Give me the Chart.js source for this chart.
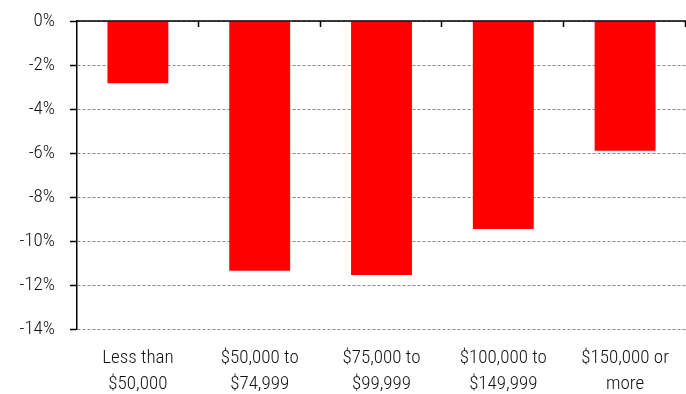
<!DOCTYPE html>
<html>
<head>
<meta charset="utf-8">
<script src="https://cdn.jsdelivr.net/npm/chart.js@4/dist/chart.umd.min.js"></script>
<style>
  html, body { margin: 0; padding: 0; background: #ffffff; }
  #wrap { width: 686px; height: 394px; position: relative; }
</style>
</head>
<body>
<div id="wrap"><canvas id="incomeChart"></canvas></div>
<script>
const incomeGroups = [
  ["Less than", "$50,000"],
  ["$50,000 to", "$74,999"],
  ["$75,000 to", "$99,999"],
  ["$100,000 to", "$149,999"],
  ["$150,000 or", "more"],
];
const pctChange = [-2.83, -11.35, -11.55, -9.45, -5.9];
const yMin = -14;
const yMax = 0;
const yStep = 2;

const fontFamily = "'Roboto Condensed', 'DejaVu Sans Condensed', sans-serif";

// solid zero line along the top with short category dividers hanging below it
const zeroAxisPlugin = {
  id: "zeroAxis",
  afterDatasetsDraw(chart) {
    const { ctx, scales: { x, y } } = chart;
    const y0 = y.getPixelForValue(0);
    const step = x.width / incomeGroups.length;

    ctx.save();
    ctx.strokeStyle = "#000000";
    ctx.lineWidth = 1.5;
    ctx.beginPath();
    ctx.moveTo(x.left, y0);
    ctx.lineTo(x.right, y0);
    for (let i = 1; i <= incomeGroups.length; i++) {
      const px = Math.round(x.left + i * step) - 0.5;
      ctx.moveTo(px, y0);
      ctx.lineTo(px, y0 + 6);
    }
    ctx.stroke();
    ctx.restore();
  }
};

new Chart(document.getElementById("incomeChart").getContext("2d"), {
  type: "bar",
  data: {
    labels: incomeGroups,
    datasets: [{
      data: pctChange,
      backgroundColor: "#ff0000",
      borderWidth: 0,
      categoryPercentage: 1,
      barPercentage: 0.5,
    }]
  },
  plugins: [zeroAxisPlugin],
  options: {
    responsive: true,
    maintainAspectRatio: false,
    animation: false,
    layout: { padding: { top: 21, right: 0, left: 0, bottom: 0 } },
    plugins: {
      legend: { display: false },
      tooltip: { enabled: false },
    },
    scales: {
      x: {
        position: "bottom",
        offset: true,
        grid: { display: false },
        border: { display: false },
        afterFit: scale => { scale.height = 65; },
        ticks: {
          color: "#111111",
          padding: 8,
          maxRotation: 0,
          autoSkip: false,
          font: { family: fontFamily, size: 19, weight: "300", lineHeight: 1.36 },
        }
      },
      y: {
        min: yMin,
        max: yMax,
        afterFit: scale => {
          scale.width = 77;
          scale.paddingTop = 0;
          scale.paddingBottom = 0;
        },
        border: { display: true, color: "#000000", width: 1.5, dash: [3, 2] },
        grid: {
          color: "#8a8a8a",
          lineWidth: 1,
          tickLength: 7,
          tickColor: "#000000",
          tickWidth: 1.5,
          tickBorderDash: [],
        },
        ticks: {
          stepSize: yStep,
          color: "#111111",
          padding: 15,
          font: { family: fontFamily, size: 19, weight: "300" },
          callback: value => `${value}%`,
        }
      }
    }
  }
});
</script>
</body>
</html>
